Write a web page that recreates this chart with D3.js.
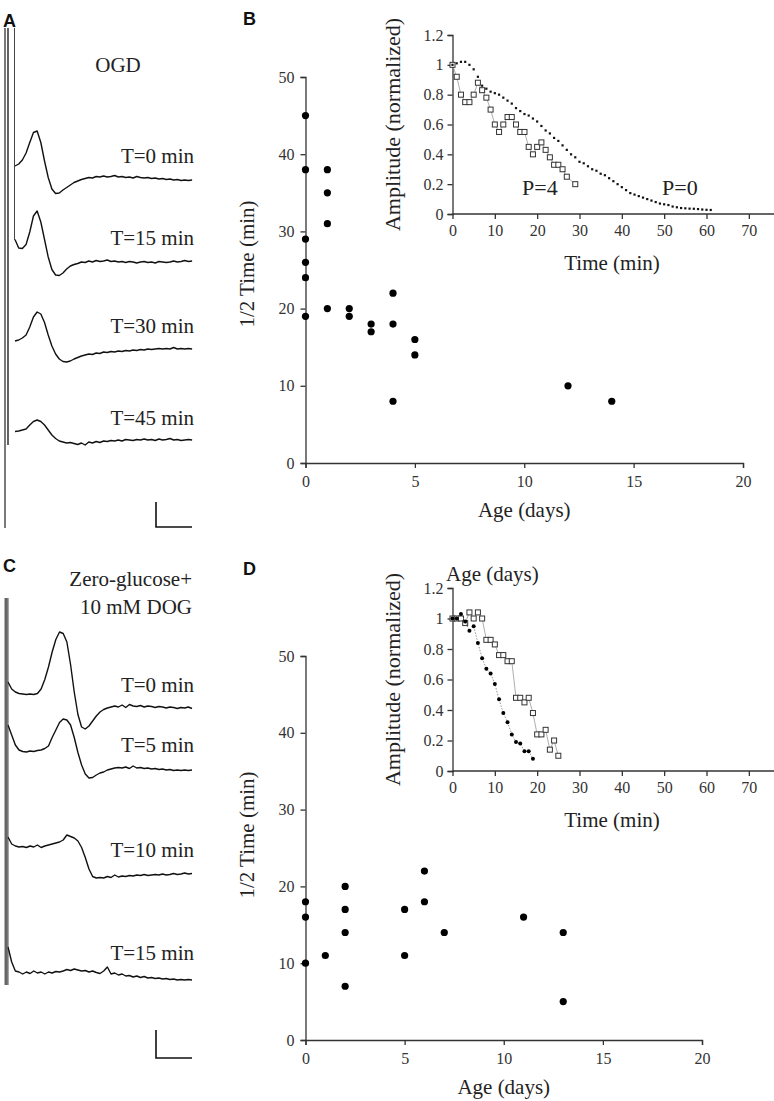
<!DOCTYPE html>
<html><head><meta charset="utf-8">
<script src="https://cdn.jsdelivr.net/npm/d3@7"></script>
<style>
body{margin:0;background:#fff}
svg{display:block}
.axis path,.axis line{stroke:#333;stroke-width:1.3}
.axis text{font-family:"Liberation Serif","Times New Roman",serif;font-size:16px;fill:#333}
</style></head><body>
<svg id="fig" width="774" height="1101"></svg>
<script>
// ---------- Panel B (OGD) : 1/2 time vs age ----------
const ogdAge  = [0,0,0,0,0,0,1,1,1,1,2,2,3,3,4,4,4,5,5,12,14];
const ogdHalf = [45,38,29,26,24,19,38,35,31,20,20,19,18,17,22,18,8,16,14,10,8];
// ---------- Panel D (zero glucose + DOG) ----------
const dogAge  = [0,0,0,1,2,2,2,2,5,5,6,6,7,11,13,13];
const dogHalf = [18,16,10,11,20,17,14,7,17,11,22,18,14,16,14,5];
// ---------- Inset B: amplitude time courses ----------
const insBTimeP4 = [0,1,2,3,4,5,6,7,8,9,10,11,12,13,14,15,16,17,18,19,20,21,22,23,24,25,26,27,29];
const insBAmpP4  = [1.0,0.92,0.80,0.75,0.75,0.80,0.88,0.83,0.78,0.70,0.60,0.55,0.60,0.65,0.65,0.60,0.55,0.55,0.45,0.40,0.45,0.48,0.43,0.38,0.33,0.33,0.30,0.25,0.20];
const insBTimeP0 = [0,1,2,3,4,5,6,7,8,9,10,11,12,13,14,15,16,17,18,19,20,21,22,23,24,25,26,27,28,29,30,31,32,33,34,35,36,37,38,39,40,41,42,43,44,45,46,47,48,49,50,51,52,53,54,55,56,57,58,59,60,61];
const insBAmpP0  = [1.00,1.01,1.02,1.02,1.00,0.97,0.92,0.86,0.84,0.82,0.81,0.80,0.78,0.76,0.74,0.71,0.69,0.67,0.66,0.64,0.62,0.59,0.56,0.54,0.51,0.49,0.46,0.43,0.40,0.38,0.35,0.34,0.32,0.30,0.29,0.27,0.26,0.24,0.22,0.20,0.18,0.16,0.14,0.13,0.12,0.11,0.10,0.09,0.08,0.07,0.065,0.06,0.05,0.045,0.04,0.038,0.036,0.035,0.033,0.03,0.028,0.027];
// ---------- Inset D ----------
const insDTimeSq = [0,1,2,3,4,5,6,7,8,9,10,11,12,13,14,15,16,17,18,19,20,21,22,23,24,25];
const insDAmpSq  = [1.0,1.0,1.0,0.97,1.04,1.0,1.04,1.0,0.86,0.86,0.83,0.76,0.76,0.72,0.72,0.48,0.48,0.45,0.48,0.38,0.24,0.24,0.27,0.14,0.20,0.10];
const insDTimeDot = [0,1,2,3,4,5,6,7,8,9,10,11,12,13,14,15,16,17,18,19];
const insDAmpDot  = [1.0,1.0,1.03,0.98,0.92,0.95,0.84,0.74,0.67,0.64,0.57,0.47,0.38,0.32,0.24,0.19,0.18,0.13,0.13,0.08];
// ---------- Tick values ----------
const mainXTicks = [0,5,10,15,20];
const mainYTicks = [0,10,20,30,40,50];
const insXTicks  = [0,10,20,30,40,50,60,70];
const insYTicks  = [0,0.2,0.4,0.6,0.8,1,1.2];
// ---------- Field potential traces (mV, 1 ms samples) ----------
const traceLabelsA = ["T=0 min","T=15 min","T=30 min","T=45 min"];
const traceA0  = [0.28,0.32,0.40,0.54,0.75,0.95,0.98,0.75,0.38,0.05,-0.18,-0.27,-0.26,-0.20,-0.15,-0.10,-0.05,-0.02,0.01,0.03,0.05,0.04,0.07,0.06,0.08,0.06,0.07,0.09,0.06,0.07,0.05,0.06,0.04,0.07,0.05,0.04,0.05,0.03,0.04,0.02,0.03,0.01,0.02,0.00,0.01,-0.01,0.00,-0.01,0.00];
const traceA15 = [0.45,0.28,0.27,0.35,0.60,0.92,1.02,0.80,0.45,0.10,-0.15,-0.26,-0.27,-0.22,-0.14,-0.08,-0.05,-0.03,0.00,-0.01,0.02,0.00,0.03,0.01,0.02,0.04,0.01,0.02,0.00,0.01,-0.01,0.01,0.00,-0.02,0.00,0.01,-0.01,0.00,-0.02,0.01,0.00,-0.01,0.00,0.02,0.00,0.01,0.03,0.01,0.02];
const traceA30 = [0.18,0.20,0.24,0.30,0.46,0.66,0.76,0.72,0.55,0.30,0.08,-0.08,-0.18,-0.23,-0.24,-0.22,-0.18,-0.15,-0.12,-0.10,-0.08,-0.09,-0.06,-0.07,-0.04,-0.05,-0.03,-0.04,-0.02,-0.03,-0.01,-0.02,0.00,-0.01,0.01,0.00,0.02,0.01,0.02,0.03,0.02,0.03,0.02,0.05,0.02,0.03,0.02,0.03,0.02];
const traceA45 = [0.17,0.18,0.20,0.22,0.30,0.37,0.40,0.37,0.30,0.20,0.10,0.03,-0.02,-0.04,-0.06,-0.05,-0.07,-0.09,-0.06,-0.10,-0.04,-0.06,-0.03,-0.05,-0.02,-0.03,-0.01,-0.02,0.00,-0.02,0.01,0.00,-0.01,0.01,0.00,0.02,0.00,0.01,-0.01,0.02,0.00,0.01,0.03,0.00,0.01,-0.01,0.00,0.01,0.00];
const traceLabelsC = ["T=0 min","T=5 min","T=10 min","T=15 min"];
const traceC0  = [0.5,0.36,0.3,0.27,0.26,0.25,0.26,0.25,0.27,0.36,0.55,0.8,1.1,1.35,1.5,1.47,1.3,0.85,0.3,-0.15,-0.4,-0.44,-0.38,-0.28,-0.18,-0.1,-0.05,-0.02,0.0,0.02,0.0,0.04,-0.01,0.05,0.02,0.01,0.03,0.0,0.02,0.01,-0.01,0.01,0.0,-0.02,0.0,-0.01,-0.03,-0.01,-0.02,0.0,-0.03];
const traceC5  = [0.9,0.7,0.5,0.4,0.37,0.36,0.38,0.37,0.39,0.4,0.43,0.48,0.65,0.8,0.95,1.02,1.0,0.9,0.65,0.35,0.1,-0.08,-0.16,-0.15,-0.1,-0.06,-0.04,0.0,0.02,0.04,0.05,0.04,0.06,0.03,0.08,0.04,0.05,0.03,0.04,0.02,0.03,0.01,0.02,0.0,0.01,-0.01,0.0,-0.01,0.0,-0.01,0.0];
const traceC10 = [0.76,0.62,0.58,0.56,0.57,0.55,0.58,0.56,0.6,0.55,0.58,0.6,0.62,0.64,0.66,0.7,0.8,0.77,0.74,0.68,0.55,0.35,0.12,-0.03,-0.06,-0.05,-0.06,-0.03,-0.05,0.0,-0.04,-0.02,-0.03,-0.01,-0.02,0.0,-0.01,0.01,-0.01,0.0,0.01,0.0,0.02,0.0,0.01,0.03,0.01,0.02,0.04,0.02,0.03];
const traceC15 = [0.6,0.3,0.12,0.1,0.06,0.1,0.07,0.12,0.08,0.1,0.06,0.1,0.08,0.11,0.1,0.12,0.15,0.13,0.16,0.14,0.12,0.13,0.1,0.12,0.09,0.07,0.12,0.2,0.06,0.08,0.04,0.06,0.02,0.03,0.0,0.02,-0.01,0.01,-0.02,-0.01,-0.03,-0.02,-0.04,-0.03,-0.05,-0.04,-0.06,-0.05,-0.06,-0.05,-0.06];

const svg = d3.select("#fig");
svg.append("rect").attr("width",774).attr("height",1101).attr("fill","#fff");
const SERIF = '"Liberation Serif","Times New Roman",serif';
const SANS = '"Liberation Sans",Arial,sans-serif';

function letter(t,x,y){
  svg.append("text").attr("x",x).attr("y",y).text(t)
    .attr("font-family",SANS).attr("font-weight","bold").attr("font-size",18).attr("fill","#111");
}
function txt(t,x,y,opts={}){
  const e = svg.append("text").attr("x",x).attr("y",y).text(t)
    .attr("font-family",SERIF).attr("font-size",opts.size||21).attr("fill",opts.fill||"#222")
    .attr("text-anchor",opts.anchor||"start");
  if(opts.rotate) e.attr("transform",`rotate(-90,${x},${y})`);
  return e;
}

// ===== main scatter panels =====
function scatter(ages, halves, xr, yr, titleYc){
  const x = d3.scaleLinear().domain([0,20]).range(xr);
  const y = d3.scaleLinear().domain([0,50]).range(yr);
  svg.append("g").attr("class","axis").attr("transform",`translate(0,${yr[0]})`)
    .call(d3.axisBottom(x).tickValues(mainXTicks).tickSizeOuter(0).tickSize(5).tickPadding(8));
  svg.append("g").attr("class","axis").attr("transform",`translate(${xr[0]},0)`)
    .call(d3.axisLeft(y).tickValues(mainYTicks).tickSizeOuter(0).tickSize(5).tickPadding(6));
  svg.append("g").selectAll("circle").data(ages).join("circle")
    .attr("cx",(d)=>x(d)).attr("cy",(d,i)=>y(halves[i])).attr("r",3.6).attr("fill","#000");
  txt("Age (days)", (xr[0]+xr[1])/2, yr[0]+54, {anchor:"middle"});
  txt("1/2 Time (min)", 254, titleYc, {anchor:"middle", rotate:true});
}
scatter(ogdAge, ogdHalf, [305.5,743], [463,77], 264);
scatter(dogAge, dogHalf, [305.5,702], [1040,656], 835);

// ===== insets =====
function inset(y0, y12){
  const x = d3.scaleLinear().domain([0,75]).range([452.5,770]);
  const y = d3.scaleLinear().domain([0,1.2]).range([y0,y12]);
  const gx = svg.append("g").attr("class","axis").attr("transform",`translate(0,${y0})`)
    .call(d3.axisBottom(x).tickValues(insXTicks).tickSizeOuter(0).tickSize(5).tickPadding(6));
  gx.select(".domain").attr("d",`M452.5,0H774`);
  svg.append("g").attr("class","axis").attr("transform",`translate(452.5,0)`)
    .call(d3.axisLeft(y).tickValues(insYTicks).tickFormat(d3.format("~g")).tickSizeOuter(0).tickSize(5).tickPadding(4));
  txt("Time (min)", 612, y0+56, {anchor:"middle"});
  txt("Amplitude (normalized)", 400, (y0+y12)/2, {anchor:"middle", rotate:true, size:22});
  return {x,y};
}
function squares(s, ts, vs){
  svg.append("path").datum(ts)
    .attr("d", d3.line().x(d=>s.x(d)).y((d,i)=>s.y(vs[i])))
    .attr("fill","none").attr("stroke","#999").attr("stroke-width",0.8);
  svg.append("g").selectAll("rect").data(ts).join("rect")
    .attr("x",d=>s.x(d)-2.5).attr("y",(d,i)=>s.y(vs[i])-2.5).attr("width",5).attr("height",5)
    .attr("fill","#fff").attr("stroke","#333").attr("stroke-width",1);
}
const sB = inset(214, 35);
squares(sB, insBTimeP4, insBAmpP4);
svg.append("g").selectAll("rect").data(insBTimeP0).join("rect")
  .attr("x",d=>sB.x(d)-1.1).attr("y",(d,i)=>sB.y(insBAmpP0[i])-1.1).attr("width",2.2).attr("height",2.2).attr("fill","#111");
txt("P=4", 522, 195, {size:22});
txt("P=0", 662, 195, {size:22});

const sD = inset(771, 588);
squares(sD, insDTimeSq, insDAmpSq);
svg.append("path").datum(insDTimeDot)
  .attr("d", d3.line().x(d=>sD.x(d)).y((d,i)=>sD.y(insDAmpDot[i])))
  .attr("fill","none").attr("stroke","#777").attr("stroke-width",0.8).attr("stroke-dasharray","1.5,1.5");
svg.append("g").selectAll("circle").data(insDTimeDot).join("circle")
  .attr("cx",d=>sD.x(d)).attr("cy",(d,i)=>sD.y(insDAmpDot[i])).attr("r",2).attr("fill","#000");
txt("Age (days)", 446, 581);

// ===== traces =====
function traces(list, x0, pxPerMs, baselines){
  list.forEach((vals,k)=>{
    const x = d3.scaleLinear().domain([0,vals.length-1]).range([x0, x0+pxPerMs*(vals.length-1)]);
    const y = d3.scaleLinear().domain([0,1]).range([baselines[k], baselines[k]-50]);
    svg.append("path").datum(vals)
      .attr("d", d3.line().x((d,i)=>x(i)).y(d=>y(d)))
      .attr("fill","none").attr("stroke","#111").attr("stroke-width",1.4).attr("stroke-linejoin","round");
  });
}
// Panel A
letter("A",3,27);
txt("OGD",118,72,{anchor:"middle"});
traces([traceA0,traceA15,traceA30,traceA45], 15, 3.69, [180,262,350,440]);
[163,245,333,425].forEach((yy,i)=>txt(traceLabelsA[i],194,yy,{anchor:"end"}));
svg.append("line").attr("x1",5).attr("x2",5).attr("y1",28).attr("y2",528).attr("stroke","#222").attr("stroke-width",1.2);
svg.append("line").attr("x1",8).attr("x2",8).attr("y1",28).attr("y2",445).attr("stroke","#222").attr("stroke-width",1.4);
svg.append("line").attr("x1",14.5).attr("x2",14.5).attr("y1",28).attr("y2",240).attr("stroke","#444").attr("stroke-width",1);
svg.append("path").attr("d","M156,502V527H192").attr("fill","none").attr("stroke","#111").attr("stroke-width",1.6);

// Panel C
letter("C",3,572);
txt("Zero-glucose+",192,586,{anchor:"end"});
txt("10 mM DOG",192,614,{anchor:"end"});
traces([traceC0,traceC5,traceC10,traceC15], 8, 3.68, [707,770,875,977]);
[692,752,857,960].forEach((yy,i)=>txt(traceLabelsC[i],194,yy,{anchor:"end"}));
svg.append("line").attr("x1",6).attr("x2",6).attr("y1",598).attr("y2",985).attr("stroke","#666").attr("stroke-width",3);
svg.append("line").attr("x1",8).attr("x2",8).attr("y1",598).attr("y2",985).attr("stroke","#222").attr("stroke-width",0.8);
svg.append("path").attr("d","M156,1030V1058H192").attr("fill","none").attr("stroke","#111").attr("stroke-width",1.6);

letter("B",243,25);
letter("D",243,575);
</script></body></html>
